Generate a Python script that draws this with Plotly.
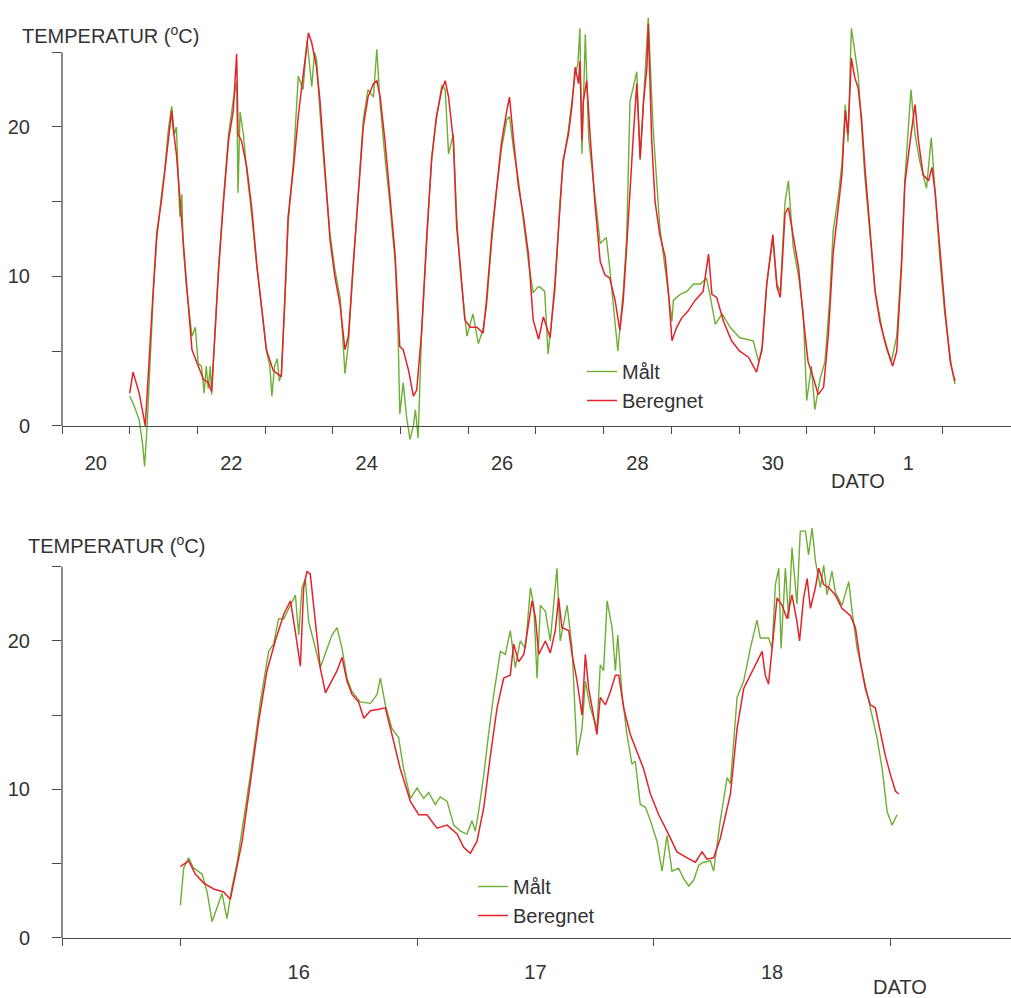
import plotly.graph_objects as go

# ---------------- data: top panel (days since the 20th, 00:00) ----------------
top_tick_pos = [0.5, 2.5, 4.5, 6.5, 8.5, 10.5, 12.5]
top_tick_text = ["20", "22", "24", "26", "28", "30", "1"]
top_day_marks = list(range(0, 14))

top_calc_t = [1.00, 1.05, 1.14, 1.23, 1.35, 1.40, 1.47, 1.52, 1.57, 1.62, 1.64, 1.69, 1.74, 1.79, 1.84, 1.92,
              2.01, 2.09, 2.16, 2.21, 2.26, 2.31, 2.38, 2.46, 2.53, 2.58, 2.60, 2.65, 2.73, 2.80, 2.88, 2.95,
              3.02, 3.12, 3.24, 3.29, 3.34, 3.42, 3.49, 3.56, 3.64, 3.69, 3.76, 3.81, 3.88, 3.96,
              4.03, 4.11, 4.18, 4.23, 4.30, 4.38, 4.45, 4.52, 4.60, 4.65, 4.70, 4.77, 4.84, 4.92, 4.99,
              5.04, 5.12, 5.19, 5.24, 5.31, 5.39, 5.46, 5.53, 5.61, 5.66, 5.71, 5.78, 5.83, 5.88, 5.95,
              6.03, 6.13, 6.22, 6.27, 6.35, 6.42, 6.49, 6.57, 6.61, 6.67, 6.74, 6.81, 6.89, 6.96,
              7.04, 7.11, 7.21, 7.28, 7.36, 7.40, 7.48, 7.53, 7.58, 7.63, 7.65, 7.68, 7.70, 7.75, 7.80, 7.87, 7.95,
              8.02, 8.09, 8.17, 8.24, 8.29, 8.34, 8.39, 8.44, 8.49, 8.54, 8.59, 8.64, 8.66, 8.71, 8.76, 8.83, 8.91, 8.96,
              9.01, 9.08, 9.15, 9.25, 9.35, 9.47, 9.55, 9.60, 9.67, 9.77, 9.89,
              10.01, 10.14, 10.26, 10.34, 10.41, 10.50, 10.56, 10.61, 10.68, 10.73, 10.80, 10.88, 10.95,
              11.02, 11.10, 11.17, 11.25, 11.32, 11.39, 11.47, 11.52, 11.57, 11.61, 11.66, 11.71, 11.76, 11.81, 11.86, 11.94,
              12.01, 12.08, 12.18, 12.27, 12.33, 12.40, 12.45, 12.53, 12.60, 12.65, 12.72, 12.80, 12.85, 12.90, 12.97,
              13.04, 13.12, 13.19]
top_calc_v = [2.2, 3.6, 2.2, 0.0, 9.3, 12.9, 15.1, 16.9, 19.1, 21.1, 20.0, 18.2, 15.1, 12.4, 9.5, 5.1,
              4.0, 3.1, 2.9, 2.3, 6.2, 10.2, 14.7, 19.1, 21.1, 24.9, 19.5, 19.1, 17.3, 14.7, 10.7, 8.0,
              5.1, 3.7, 3.3, 8.4, 14.0, 17.3, 20.7, 23.4, 26.3, 25.6, 24.0, 21.8, 17.3, 12.4,
              10.0, 8.0, 5.1, 6.0, 10.7, 15.8, 20.0, 22.0, 22.9, 23.1, 22.0, 19.1, 15.6, 11.5, 5.3,
              5.1, 3.7, 2.0, 2.4, 6.2, 12.9, 17.8, 20.7, 22.5, 23.1, 22.0, 19.1, 13.3, 10.9, 7.1,
              6.6, 6.6, 6.2, 8.4, 12.9, 16.1, 18.9, 21.1, 22.0, 19.1, 16.1, 14.2, 11.5, 7.1,
              5.8, 7.3, 5.9, 9.5, 15.0, 17.7, 19.5, 21.3, 24.0, 22.9, 24.4, 19.1, 21.7, 23.1, 19.5, 15.0, 11.0,
              10.1, 9.9, 8.4, 6.4, 8.4, 11.9, 15.9, 19.5, 22.9, 17.9, 21.7, 24.0, 26.9, 19.1, 15.0, 12.8, 11.3, 8.8,
              5.7, 6.6, 7.2, 7.7, 8.4, 9.0, 11.5, 8.8, 8.6, 7.0, 5.7,
              5.0, 4.6, 3.6, 5.2, 9.5, 12.8, 9.3, 8.6, 14.2, 14.6, 12.8, 10.6, 7.2,
              4.3, 3.2, 2.1, 2.6, 6.1, 11.5, 15.0, 16.8, 21.1, 19.5, 24.6, 23.3, 22.6, 20.6, 17.3, 12.8,
              9.0, 7.0, 5.2, 4.0, 5.0, 10.6, 16.2, 19.1, 21.5, 19.1, 16.8, 16.4, 17.3, 15.5, 11.5,
              7.9, 4.3, 3.0]

top_meas_t = [1.00, 1.07, 1.14, 1.19, 1.22, 1.26, 1.35, 1.40, 1.47, 1.52, 1.57, 1.62, 1.66, 1.69, 1.74, 1.77,
              1.79, 1.84, 1.92, 1.97, 2.01, 2.06, 2.10, 2.13, 2.16, 2.19, 2.21, 2.26, 2.31, 2.38, 2.46, 2.53,
              2.58, 2.60, 2.63, 2.68, 2.73, 2.80, 2.88, 2.95, 3.02, 3.07, 3.10, 3.14, 3.18, 3.21, 3.24, 3.29,
              3.34, 3.42, 3.49, 3.56, 3.62, 3.69, 3.73, 3.76, 3.81, 3.88, 3.96, 4.03, 4.11, 4.18, 4.23, 4.30,
              4.38, 4.45, 4.52, 4.60, 4.65, 4.70, 4.77, 4.84, 4.92, 4.96, 4.99, 5.04, 5.09, 5.14, 5.19, 5.22,
              5.26, 5.31, 5.39, 5.46, 5.53, 5.61, 5.66, 5.71, 5.78, 5.83, 5.88, 5.95, 5.98, 6.07, 6.15, 6.22,
              6.27, 6.35, 6.42, 6.49, 6.57, 6.61, 6.67, 6.74, 6.81, 6.89, 6.96, 7.03, 7.06, 7.13, 7.18, 7.23,
              7.28, 7.36, 7.40, 7.48, 7.52, 7.58, 7.62, 7.65, 7.68, 7.73, 7.78, 7.87, 7.95, 8.04, 8.09, 8.21,
              8.29, 8.34, 8.39, 8.49, 8.54, 8.66, 8.73, 8.83, 8.96, 9.01, 9.03, 9.13, 9.23, 9.33, 9.43, 9.52,
              9.57, 9.65, 9.75, 9.87, 10.01, 10.21, 10.29, 10.34, 10.41, 10.50, 10.56, 10.61, 10.68, 10.73,
              10.80, 10.88, 10.95, 11.00, 11.07, 11.12, 11.20, 11.27, 11.34, 11.39, 11.47, 11.52, 11.57, 11.61,
              11.66, 11.76, 11.86, 11.94, 12.01, 12.13, 12.25, 12.33, 12.40, 12.45, 12.50, 12.54, 12.60, 12.67,
              12.77, 12.84, 12.90, 12.97, 13.04, 13.14, 13.19]
top_meas_v = [2.0, 1.3, 0.4, -1.2, -2.7, 0.2, 9.0, 12.5, 15.5, 17.2, 19.8, 21.4, 19.5, 20.0, 14.0, 15.5,
              12.0, 9.2, 6.0, 6.6, 4.2, 4.0, 2.2, 4.0, 2.5, 4.0, 2.1, 6.5, 10.5, 14.9, 19.5, 21.8,
              23.0, 15.6, 21.0, 19.5, 17.0, 14.2, 10.5, 7.8, 5.0, 4.0, 2.0, 4.0, 4.5, 3.0, 3.5, 8.0,
              13.5, 17.8, 23.4, 22.5, 25.8, 22.7, 25.0, 24.5, 21.0, 17.0, 12.8, 10.5, 8.5, 3.5, 5.5, 10.5,
              15.5, 20.5, 22.5, 22.0, 25.2, 21.5, 18.0, 15.0, 11.0, 7.0, 0.8, 2.9, 0.6, -0.9, 0.0, 1.1,
              -0.8, 6.0, 12.5, 18.0, 20.5, 22.8, 22.5, 18.2, 19.5, 14.0, 10.5, 7.5, 6.0, 7.5, 5.5, 6.5,
              8.0, 12.5, 15.8, 18.5, 20.5, 20.7, 18.5, 16.5, 14.0, 11.0, 8.9, 9.3, 9.3, 9.0, 4.8, 7.0,
              9.0, 15.2, 17.5, 19.8, 21.3, 23.5, 24.2, 26.6, 18.2, 26.2, 19.2, 15.5, 12.2, 12.6, 10.6, 5.0,
              9.0, 12.5, 21.7, 23.7, 17.8, 27.3, 20.0, 13.3, 8.8, 7.0, 8.4, 8.8, 9.0, 9.5, 9.5, 9.9,
              8.8, 6.8, 7.5, 6.6, 5.9, 5.7, 4.3, 5.0, 9.5, 12.5, 9.5, 9.0, 15.0, 16.4,
              12.0, 10.0, 7.5, 1.7, 4.0, 1.1, 3.2, 4.3, 8.5, 13.0, 15.5, 17.5, 21.5, 19.0,
              26.6, 23.5, 16.6, 12.5, 9.0, 6.1, 4.3, 6.0, 11.0, 16.5, 19.5, 22.5, 19.5, 17.7,
              15.9, 19.3, 15.5, 11.0, 7.5, 3.9, 2.8]

# ---------------- data: bottom panel (days since the 16th, 00:00) ----------------
bot_tick_pos = [0.5, 1.5, 2.5]
bot_tick_text = ["16", "17", "18"]
bot_day_marks = [-0.5, 0, 1, 2, 3]

bot_calc_t = [0.000, 0.035, 0.063, 0.099, 0.141, 0.183, 0.211, 0.232, 0.261, 0.296, 0.331, 0.366, 0.401, 0.437,
              0.465, 0.486, 0.507, 0.521, 0.535, 0.549, 0.570, 0.591, 0.613, 0.634, 0.662, 0.683, 0.704, 0.725,
              0.753, 0.775, 0.803, 0.838, 0.866, 0.894, 0.929, 0.972, 1.007, 1.042, 1.084, 1.127, 1.169, 1.197,
              1.225, 1.253, 1.282, 1.310, 1.338, 1.366, 1.394, 1.408, 1.429, 1.451, 1.472, 1.486, 1.500, 1.514,
              1.542, 1.563, 1.584, 1.598, 1.612, 1.641, 1.655, 1.676, 1.697, 1.711, 1.725, 1.739, 1.760, 1.774,
              1.796, 1.817, 1.838, 1.852, 1.873, 1.901, 1.929, 1.957, 1.986, 2.021, 2.056, 2.098, 2.141, 2.176,
              2.204, 2.225, 2.253, 2.281, 2.324, 2.352, 2.380, 2.408, 2.436, 2.458, 2.471, 2.485, 2.500, 2.521,
              2.542, 2.563, 2.584, 2.605, 2.616, 2.633, 2.648, 2.662, 2.683, 2.697, 2.718, 2.739, 2.767, 2.795,
              2.831, 2.852, 2.873, 2.894, 2.915, 2.936, 2.957, 2.978, 3.000, 3.021, 3.035]
bot_calc_v = [4.8, 5.2, 4.3, 3.7, 3.3, 3.1, 2.6, 4.3, 6.5, 10.5, 14.6, 18.0, 20.0, 21.8,
              22.7, 20.6, 18.3, 23.6, 24.7, 24.5, 21.3, 18.2, 16.5, 17.1, 18.0, 18.9, 17.3, 16.4,
              15.9, 14.8, 15.3, 15.4, 15.5, 13.7, 11.4, 9.2, 8.3, 8.3, 7.4, 7.6, 7.0, 6.1,
              5.7, 6.5, 8.8, 12.3, 15.5, 17.5, 17.7, 19.8, 18.6, 19.1, 21.3, 22.7, 21.6, 19.1,
              20.0, 19.2, 20.7, 22.9, 20.9, 20.7, 19.1, 17.3, 15.0, 19.1, 16.8, 15.5, 13.7, 16.2,
              15.7, 16.6, 17.7, 17.7, 15.5, 13.7, 12.6, 11.4, 9.7, 8.3, 7.2, 5.8, 5.4, 5.1,
              5.8, 5.3, 5.4, 6.7, 9.7, 14.1, 16.8, 17.7, 18.6, 19.3, 17.7, 17.1, 19.5, 22.9,
              22.4, 21.5, 23.1, 21.3, 20.0, 22.9, 24.2, 22.2, 23.6, 24.9, 23.8, 23.6, 23.1, 22.2,
              21.7, 20.9, 18.6, 16.8, 15.7, 15.5, 13.9, 12.3, 11.0, 9.9, 9.7]

bot_meas_t = [0.000, 0.014, 0.035, 0.056, 0.092, 0.113, 0.134, 0.155, 0.176, 0.197, 0.218, 0.239, 0.296, 0.338,
              0.373, 0.394, 0.415, 0.437, 0.465, 0.486, 0.500, 0.514, 0.528, 0.542, 0.563, 0.591, 0.620, 0.641,
              0.662, 0.683, 0.704, 0.725, 0.760, 0.803, 0.831, 0.845, 0.866, 0.894, 0.922, 0.943, 0.972, 1.000,
              1.028, 1.049, 1.077, 1.098, 1.127, 1.155, 1.183, 1.211, 1.232, 1.246, 1.260, 1.282, 1.302, 1.324,
              1.352, 1.373, 1.394, 1.415, 1.436, 1.458, 1.479, 1.493, 1.507, 1.521, 1.542, 1.563, 1.591, 1.605,
              1.634, 1.655, 1.676, 1.697, 1.711, 1.732, 1.760, 1.774, 1.788, 1.803, 1.824, 1.838, 1.848, 1.866,
              1.887, 1.908, 1.922, 1.943, 1.965, 1.986, 2.014, 2.035, 2.056, 2.077, 2.105, 2.126, 2.148, 2.169,
              2.190, 2.211, 2.239, 2.253, 2.281, 2.295, 2.310, 2.324, 2.352, 2.380, 2.408, 2.436, 2.450, 2.464,
              2.485, 2.500, 2.514, 2.528, 2.538, 2.556, 2.570, 2.584, 2.605, 2.619, 2.641, 2.654, 2.669, 2.683,
              2.704, 2.718, 2.732, 2.753, 2.767, 2.795, 2.824, 2.838, 2.859, 2.887, 2.915, 2.943, 2.965, 2.986,
              3.007, 3.028]
bot_meas_v = [2.2, 4.7, 5.4, 4.7, 4.3, 3.1, 1.1, 2.0, 3.0, 1.3, 3.4, 5.0, 11.0, 15.9,
              19.3, 19.8, 21.5, 21.5, 22.4, 23.1, 20.4, 23.6, 24.2, 21.3, 20.0, 18.2, 19.5, 20.4,
              20.9, 19.5, 17.5, 16.6, 15.9, 15.8, 16.4, 17.5, 15.7, 14.1, 13.5, 11.4, 9.4, 10.1,
              9.4, 9.8, 9.0, 9.5, 9.2, 7.6, 7.2, 7.0, 7.9, 7.2, 8.5, 11.0, 13.7, 16.4,
              19.3, 19.1, 20.7, 18.2, 20.0, 19.5, 23.6, 22.4, 17.5, 22.4, 22.0, 20.0, 24.9, 20.0,
              22.4, 19.5, 12.3, 14.1, 17.3, 15.5, 14.1, 18.4, 18.0, 22.7, 20.9, 18.0, 20.4, 16.4,
              13.7, 11.7, 11.9, 9.0, 8.8, 7.9, 6.5, 4.5, 6.9, 4.5, 4.7, 4.0, 3.5, 3.9,
              4.9, 5.1, 5.2, 4.5, 7.9, 9.2, 10.8, 10.4, 16.2, 17.3, 19.5, 21.4, 20.2, 20.2,
              20.2, 19.5, 23.8, 24.9, 19.5, 24.9, 21.5, 26.3, 22.5, 27.4, 27.4, 25.8, 27.6, 25.4,
              23.6, 25.1, 23.1, 24.7, 23.3, 22.4, 24.0, 22.0, 19.5, 17.5, 15.5, 13.5, 11.4, 8.5,
              7.6, 8.3]

y_label_vals = [0, 10, 20]
y_label_text = ["0", "10", "20"]
y_minor_vals = [5, 15, 25]

# ---------------- styling ----------------
GREEN = "#6fae35"
RED = "#e4222c"
AX = "#4a4a4a"
TXT = "#333333"
FONT = "Liberation Sans, Arial, sans-serif"
FS = 20

W, H = 1011, 998
x_dom = [62 / W, 1.0]
top_yr = [-3.2, 28.0]
bot_yr = [-3.2, 28.0]
top_dom = [1 - 473.8 / H, 1 - 7.4 / H]
bot_dom = [1 - 985.5 / H, 1 - 522.2 / H]


def zero_pos(dom, yr):
    return dom[0] + (0 - yr[0]) / (yr[1] - yr[0]) * (dom[1] - dom[0])


fig = go.Figure()
fig.add_trace(go.Scatter(x=top_meas_t, y=top_meas_v, mode="lines", name="Målt",
                         line=dict(color=GREEN, width=1.4), xaxis="x", yaxis="y", legend="legend"))
fig.add_trace(go.Scatter(x=top_calc_t, y=top_calc_v, mode="lines", name="Beregnet",
                         line=dict(color=RED, width=1.5), xaxis="x", yaxis="y", legend="legend"))
fig.add_trace(go.Scatter(x=bot_meas_t, y=bot_meas_v, mode="lines", name="Målt",
                         line=dict(color=GREEN, width=1.4), xaxis="x2", yaxis="y2", legend="legend2"))
fig.add_trace(go.Scatter(x=bot_calc_t, y=bot_calc_v, mode="lines", name="Beregnet",
                         line=dict(color=RED, width=1.5), xaxis="x2", yaxis="y2", legend="legend2"))

xcommon = dict(showgrid=False, zeroline=False, showline=True, linecolor=AX, linewidth=1.3,
               ticks="outside", tickcolor="rgba(0,0,0,0)", tickmode="array",
               tickfont=dict(family=FONT, size=FS, color=TXT), anchor="free", automargin=False,
               fixedrange=True)
ycommon = dict(showgrid=False, zeroline=False, showline=False, ticks="outside", ticklen=9,
               tickwidth=1.3, tickcolor=AX, tickmode="array", tickvals=y_label_vals, ticktext=y_label_text,
               tickfont=dict(family=FONT, size=FS, color=TXT), automargin=False, fixedrange=True,
               ticklabelstandoff=18,
               minor=dict(tickmode="array", tickvals=y_minor_vals, ticks="outside", ticklen=9,
                          tickwidth=1.3, tickcolor=AX))

fig.update_layout(
    width=W, height=H, margin=dict(l=0, r=0, t=0, b=0),
    paper_bgcolor="white", plot_bgcolor="white",
    font=dict(family=FONT, size=FS, color=TXT),
    xaxis=dict(**xcommon, domain=x_dom, range=[0, (W - 62) / 67.7],
               tickvals=top_tick_pos, ticktext=top_tick_text, ticklen=19,
               position=zero_pos(top_dom, top_yr),
               minor=dict(tickmode="array", tickvals=top_day_marks, ticks="outside", ticklen=7,
                          tickwidth=1.3, tickcolor=AX)),
    yaxis=dict(**ycommon, domain=top_dom, range=top_yr, anchor="x"),
    xaxis2=dict(**xcommon, domain=x_dom, range=[-0.5, -0.5 + (W - 62) / 236.7],
                tickvals=bot_tick_pos, ticktext=bot_tick_text, ticklen=16,
                position=zero_pos(bot_dom, bot_yr),
                minor=dict(tickmode="array", tickvals=bot_day_marks, ticks="outside", ticklen=7,
                           tickwidth=1.3, tickcolor=AX)),
    yaxis2=dict(**ycommon, domain=bot_dom, range=bot_yr, anchor="x2"),
    legend=dict(x=582 / W, y=1 - 352 / H, xanchor="left", yanchor="top", bgcolor="rgba(0,0,0,0)",
                font=dict(family=FONT, size=FS, color=TXT), tracegroupgap=0),
    legend2=dict(x=473 / W, y=1 - 867 / H, xanchor="left", yanchor="top", bgcolor="rgba(0,0,0,0)",
                 font=dict(family=FONT, size=FS, color=TXT), tracegroupgap=0),
    shapes=[
        dict(type="line", xref="x domain", yref="y", x0=0, x1=0, y0=0, y1=25,
             line=dict(color=AX, width=1.3)),
        dict(type="line", xref="x2 domain", yref="y2", x0=0, x1=0, y0=0, y1=25,
             line=dict(color=AX, width=1.3)),
    ],
    annotations=[
        dict(text="TEMPERATUR (<sup>o</sup>C)", xref="paper", yref="paper", x=20 / W, y=1 - 34 / H,
             xanchor="left", yanchor="middle", showarrow=False, font=dict(family=FONT, size=FS, color=TXT)),
        dict(text="TEMPERATUR (<sup>o</sup>C)", xref="paper", yref="paper", x=26 / W, y=1 - 544 / H,
             xanchor="left", yanchor="middle", showarrow=False, font=dict(family=FONT, size=FS, color=TXT)),
        dict(text="DATO", xref="paper", yref="paper", x=858 / W, y=1 - 481 / H,
             xanchor="center", yanchor="middle", showarrow=False, font=dict(family=FONT, size=FS, color=TXT)),
        dict(text="DATO", xref="paper", yref="paper", x=900 / W, y=1 - 987 / H,
             xanchor="center", yanchor="middle", showarrow=False, font=dict(family=FONT, size=FS, color=TXT)),
    ],
)

fig.write_html("out.html", config={"displayModeBar": False},
               post_script="document.body.style.margin='0px';")
